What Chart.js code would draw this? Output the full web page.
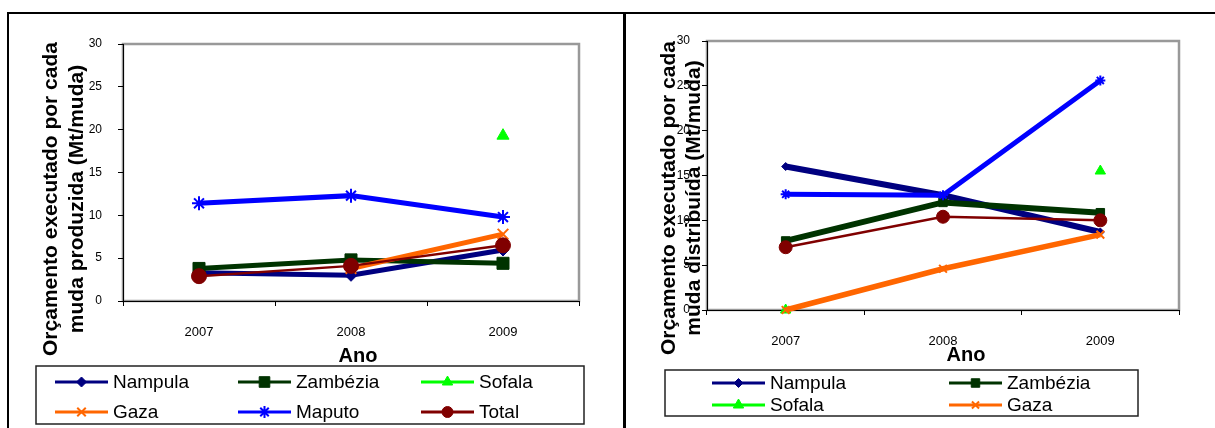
<!DOCTYPE html>
<html>
<head>
<meta charset="utf-8">
<script src="https://cdn.jsdelivr.net/npm/chart.js@4.4.1/dist/chart.umd.min.js"></script>
<style>
  html, body { margin: 0; padding: 0; background: #fff; }
  #page { position: relative; width: 1215px; height: 428px; overflow: hidden; }
  .panel { position: absolute; top: 0; height: 428px; }
  .rule { position: absolute; background: #000; z-index: 2; }
</style>
</head>
<body>
<div id="page">
  <div class="panel" style="left:0;width:620px"><canvas id="producedChart" width="620" height="428"></canvas></div>
  <div class="panel" style="left:620px;width:595px"><canvas id="distributedChart" width="595" height="428"></canvas></div>
  <div class="rule" style="left:7px;top:12px;width:1208px;height:2px"></div>
  <div class="rule" style="left:7px;top:12px;width:2px;height:416px"></div>
  <div class="rule" style="left:623px;top:12px;width:3px;height:416px"></div>
</div>
<script>
// ─── Data ─────────────────────────────────────────────────────────────────────

const years = ['2007', '2008', '2009'];
const costTicks = [0, 5, 10, 15, 20, 25, 30];
const provinces = ['Nampula', 'Zambézia', 'Sofala', 'Gaza', 'Maputo', 'Total'];

// Mt per seedling produced
const producedNampula  = [3.3, 3.0, 5.95];
const producedZambezia = [3.8, 4.8, 4.4];
const producedSofala   = [null, null, 19.3];
const producedGaza     = [null, 3.8, 7.8];
const producedMaputo   = [11.4, 12.3, 9.8];
const producedTotal    = [2.9, 4.1, 6.5];

// Mt per seedling distributed
const distributedNampula  = [16.0, 12.8, 8.7];
const distributedZambezia = [7.7, 12.0, 10.85];
const distributedSofala   = [0, null, 15.5];
const distributedGaza     = [0, 4.6, 8.4];
const distributedMaputo   = [12.9, 12.8, 25.6];
const distributedTotal    = [7.0, 10.4, 10.0];

// ─── Look ─────────────────────────────────────────────────────────────────────

const FONT = "'Liberation Sans', Arial, sans-serif";
const palette = ['#000080', '#003300', '#00ff00', '#ff6600', '#0000ff', '#800000'];
const markers = ['rectRot', 'rect', 'triangle', 'crossRot', 'star', 'circle'];

Chart.defaults.font.family = FONT;
Chart.defaults.color = '#000';

// gray frame round the plot area
const plotFrame = {
  id: 'plotFrame',
  beforeDraw(chart) {
    const { ctx, chartArea: a } = chart;
    ctx.save();
    ctx.strokeStyle = '#999';
    ctx.lineWidth = 2.5;
    ctx.strokeRect(a.left, a.top, a.right - a.left, a.bottom - a.top);
    ctx.restore();
  },
};

// two-line rotated value title + bold year title
const axisCaptions = {
  id: 'axisCaptions',
  afterDraw(chart, args, o) {
    const { ctx } = chart;
    ctx.save();
    ctx.fillStyle = '#000';
    ctx.font = `bold 21px ${FONT}`;
    ctx.textAlign = 'center';
    ctx.textBaseline = 'alphabetic';
    o.yLines.forEach((line, i) => {
      ctx.save();
      ctx.translate(o.yBaselines[i], o.yCenter);
      ctx.rotate(-Math.PI / 2);
      ctx.fillText(line, 0, 0);
      ctx.restore();
    });
    ctx.font = `bold 20px ${FONT}`;
    ctx.textBaseline = 'middle';
    ctx.fillText(o.xText, o.xCenter, o.xMiddle);
    ctx.restore();
  },
};

// framed legend laid out in fixed columns
const boxLegend = {
  id: 'boxLegend',
  afterDraw(chart, args, o) {
    const { ctx } = chart;
    const b = o.box;
    ctx.save();
    ctx.lineWidth = 1.5;
    ctx.strokeStyle = '#222';
    ctx.strokeRect(b.x, b.y, b.w, b.h);
    ctx.font = `19px ${FONT}`;
    ctx.textBaseline = 'middle';
    ctx.textAlign = 'left';
    chart.data.datasets.slice(0, o.count).forEach((ds, i) => {
      const x = o.columns[i % o.columns.length];
      const y = o.rows[Math.floor(i / o.columns.length)];
      ctx.strokeStyle = ds.borderColor;
      ctx.lineWidth = o.lineWidth;
      ctx.beginPath();
      ctx.moveTo(x, y);
      ctx.lineTo(x + o.lineLength, y);
      ctx.stroke();
      ctx.fillStyle = ds.pointBackgroundColor;
      ctx.strokeStyle = ds.pointBorderColor;
      ctx.lineWidth = ds.pointBorderWidth;
      Chart.helpers.drawPoint(ctx, {
        pointStyle: ds.pointStyle, rotation: 0,
        radius: o.markerRadius[i], borderWidth: ds.pointBorderWidth,
      }, x + o.lineLength / 2, y);
      ctx.fillStyle = '#000';
      ctx.fillText(ds.label, x + o.lineLength + 5, y + 1);
    });
    ctx.restore();
  },
};

function buildDatasets(series, lineWidths, radii) {
  return series.map((values, i) => {
    const stroked = markers[i] === 'crossRot' || markers[i] === 'star';
    return {
      label: provinces[i],
      data: values,
      borderColor: palette[i],
      backgroundColor: palette[i],
      borderWidth: lineWidths[i],
      pointStyle: markers[i],
      pointRadius: radii[i],
      pointBackgroundColor: palette[i],
      pointBorderColor: palette[i],
      pointBorderWidth: stroked ? 2 : 1,
      tension: 0,
      spanGaps: false,
      clip: false,
      order: series.length - i,
    };
  });
}

function costScales(tickPadding) {
  return {
    x: {
      type: 'category',
      offset: true,
      grid: { offset: true, drawOnChartArea: false, drawTicks: true, tickLength: 5, color: '#000' },
      border: { color: '#000', width: 1 },
      ticks: { font: { size: 13 }, color: '#000', padding: 19, maxRotation: 0 },
      afterFit: (axis) => { axis.height = 60; },
    },
    y: {
      min: costTicks[0],
      max: costTicks[costTicks.length - 1],
      afterBuildTicks: (axis) => { axis.ticks = costTicks.map((v) => ({ value: v })); },
      grid: { drawOnChartArea: false, drawTicks: true, tickLength: 5, color: '#000' },
      border: { color: '#000', width: 1 },
      ticks: { font: { size: 12 }, color: '#000', padding: tickPadding },
      afterFit: (axis) => { axis.width = 50; },
    },
  };
}

function initCharts() {

  // ── Cost per seedling produced ──────────────────────────────────────────────
  new Chart(document.getElementById('producedChart'), {
    type: 'line',
    data: {
      labels: years,
      datasets: buildDatasets(
        [producedNampula, producedZambezia, producedSofala, producedGaza, producedMaputo, producedTotal],
        [5, 5, 5, 5, 5, 2.5],
        [6, 8.5, 7, 7.5, 7, 7.5],
      ),
    },
    options: {
      responsive: false,
      animation: false,
      devicePixelRatio: 1,
      layout: { padding: { left: 73, right: 41, top: 44, bottom: 67 } },
      plugins: {
        legend: { display: false },
        tooltip: { enabled: false },
        axisCaptions: {
          yLines: ['Orçamento executado por cada', 'muda produzida (Mt/muda)'],
          yBaselines: [57, 83], yCenter: 199,
          xText: 'Ano', xCenter: 358, xMiddle: 356,
        },
        boxLegend: {
          box: { x: 36, y: 366, w: 548, h: 58 },
          columns: [55, 238, 421], rows: [382, 412], count: 6,
          lineLength: 53, lineWidth: 3,
          markerRadius: [5, 7.5, 6, 6, 6, 5.5],
        },
      },
      scales: costScales(16),
    },
    plugins: [plotFrame, axisCaptions, boxLegend],
  });

  // ── Cost per seedling distributed ───────────────────────────────────────────
  new Chart(document.getElementById('distributedChart'), {
    type: 'line',
    data: {
      labels: years,
      datasets: buildDatasets(
        [distributedNampula, distributedZambezia, distributedSofala, distributedGaza, distributedMaputo, distributedTotal],
        [6, 6, 5, 5.5, 5, 2.5],
        [4, 6, 6, 5.5, 5, 6.5],
      ),
    },
    options: {
      responsive: false,
      animation: false,
      devicePixelRatio: 1,
      layout: { padding: { left: 37, right: 36, top: 41, bottom: 58 } },
      plugins: {
        legend: { display: false },
        tooltip: { enabled: false },
        axisCaptions: {
          yLines: ['Orçamento executado por cada', 'muda distribuída (Mt/muda)'],
          yBaselines: [55, 80], yCenter: 198,
          xText: 'Ano', xCenter: 346, xMiddle: 355,
        },
        boxLegend: {
          box: { x: 45, y: 370, w: 473, h: 46 },
          columns: [92, 329], rows: [383, 405], count: 4,
          lineLength: 53, lineWidth: 3,
          markerRadius: [4.5, 6, 6, 5],
        },
      },
      scales: costScales(12),
    },
    plugins: [plotFrame, axisCaptions, boxLegend],
  });
}

document.addEventListener('DOMContentLoaded', initCharts);
</script>
</body>
</html>
